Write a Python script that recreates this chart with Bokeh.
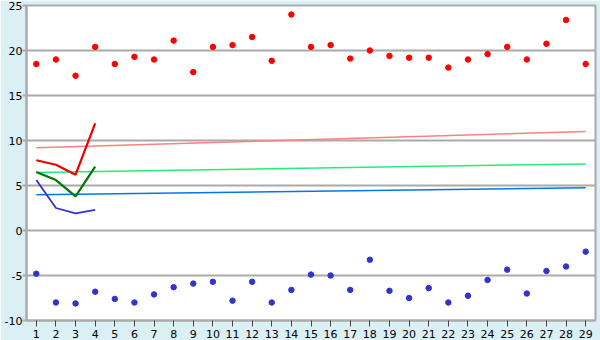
from bokeh.plotting import figure
from bokeh.models import FixedTicker, Range1d
from bokeh.embed import file_html
from bokeh.resources import INLINE

days = list(range(1, 30))
high = [18.5, 19.0, 17.2, 20.4, 18.5, 19.3, 19.0, 21.1, 17.6, 20.4,
        20.6, 21.5, 18.85, 24.0, 20.4, 20.6, 19.1, 20.0, 19.4, 19.2,
        19.2, 18.1, 19.0, 19.6, 20.4, 19.0, 20.75, 23.4, 18.5]
low = [-4.8, -8.0, -8.1, -6.8, -7.6, -8.0, -7.1, -6.3, -5.9, -5.7,
       -7.8, -5.7, -8.0, -6.6, -4.9, -5.0, -6.6, -3.25, -6.7, -7.5,
       -6.4, -8.0, -7.25, -5.5, -4.35, -7.0, -4.5, -4.0, -2.35]

fc_days = [1, 2, 3, 4]
fc_red = [7.8, 7.3, 6.2, 11.9]
fc_green = [6.5, 5.6, 3.8, 7.1]
fc_blue = [5.6, 2.5, 1.9, 2.3]

trend_x = [1, 29]
trend_red = [9.2, 11.0]
trend_green = [6.45, 7.4]
trend_blue = [3.97, 4.75]

y_ticks = [-10, -5, 0, 5, 10, 15, 20, 25]
y_labels = {t: str(t) for t in y_ticks}

p = figure(width=600, height=340, output_backend="svg", toolbar_location=None,
           x_range=Range1d(0.5, 29.5), y_range=Range1d(-10, 25),
           min_border_left=26, min_border_right=5, min_border_top=5, min_border_bottom=20)
p.border_fill_color = "#daf0f5"
p.background_fill_color = "white"
p.outline_line_color = "#aaaaaa"
p.outline_line_width = 2

p.xgrid.grid_line_color = None
p.ygrid.grid_line_color = "#aaaaaa"
p.ygrid.grid_line_width = 2
p.ygrid.ticker = FixedTicker(ticks=y_ticks)

p.yaxis.ticker = FixedTicker(ticks=y_ticks)
p.yaxis.major_label_overrides = y_labels
p.xaxis.ticker = FixedTicker(ticks=days)
for ax in (p.xaxis, p.yaxis):
    ax.axis_line_color = "#aaaaaa"
    ax.axis_line_width = 2
    ax.major_label_text_font = "DejaVu Sans"
    ax.major_label_text_font_size = "11px"
    ax.major_label_text_color = "black"
    ax.minor_tick_line_color = None
    ax.major_tick_in = 0
p.yaxis.major_tick_out = 4
p.yaxis.major_tick_line_color = "#aaaaaa"
p.yaxis.major_tick_line_width = 2
p.yaxis.major_label_standoff = 0
p.xaxis.major_tick_out = 6
p.xaxis.major_tick_line_color = "#444444"
p.xaxis.major_label_standoff = 3

p.line(trend_x, trend_red, line_color="#ff8080", line_width=1.5)
p.line(trend_x, trend_green, line_color="#22ee77", line_width=1.5)
p.line(trend_x, trend_blue, line_color="#0077ee", line_width=1.5)

p.line(fc_days, fc_red, line_color="#ee0000", line_width=2.2)
p.line(fc_days, fc_green, line_color="#007700", line_width=2.2)
p.line(fc_days, fc_blue, line_color="#3333cc", line_width=1.8)

p.scatter(days, high, marker="circle", size=5.5, color="#ff0000")
p.scatter(days, low, marker="circle", size=5.5, color="#3333cc")

open("out.html", "w").write(file_html(p, INLINE))
